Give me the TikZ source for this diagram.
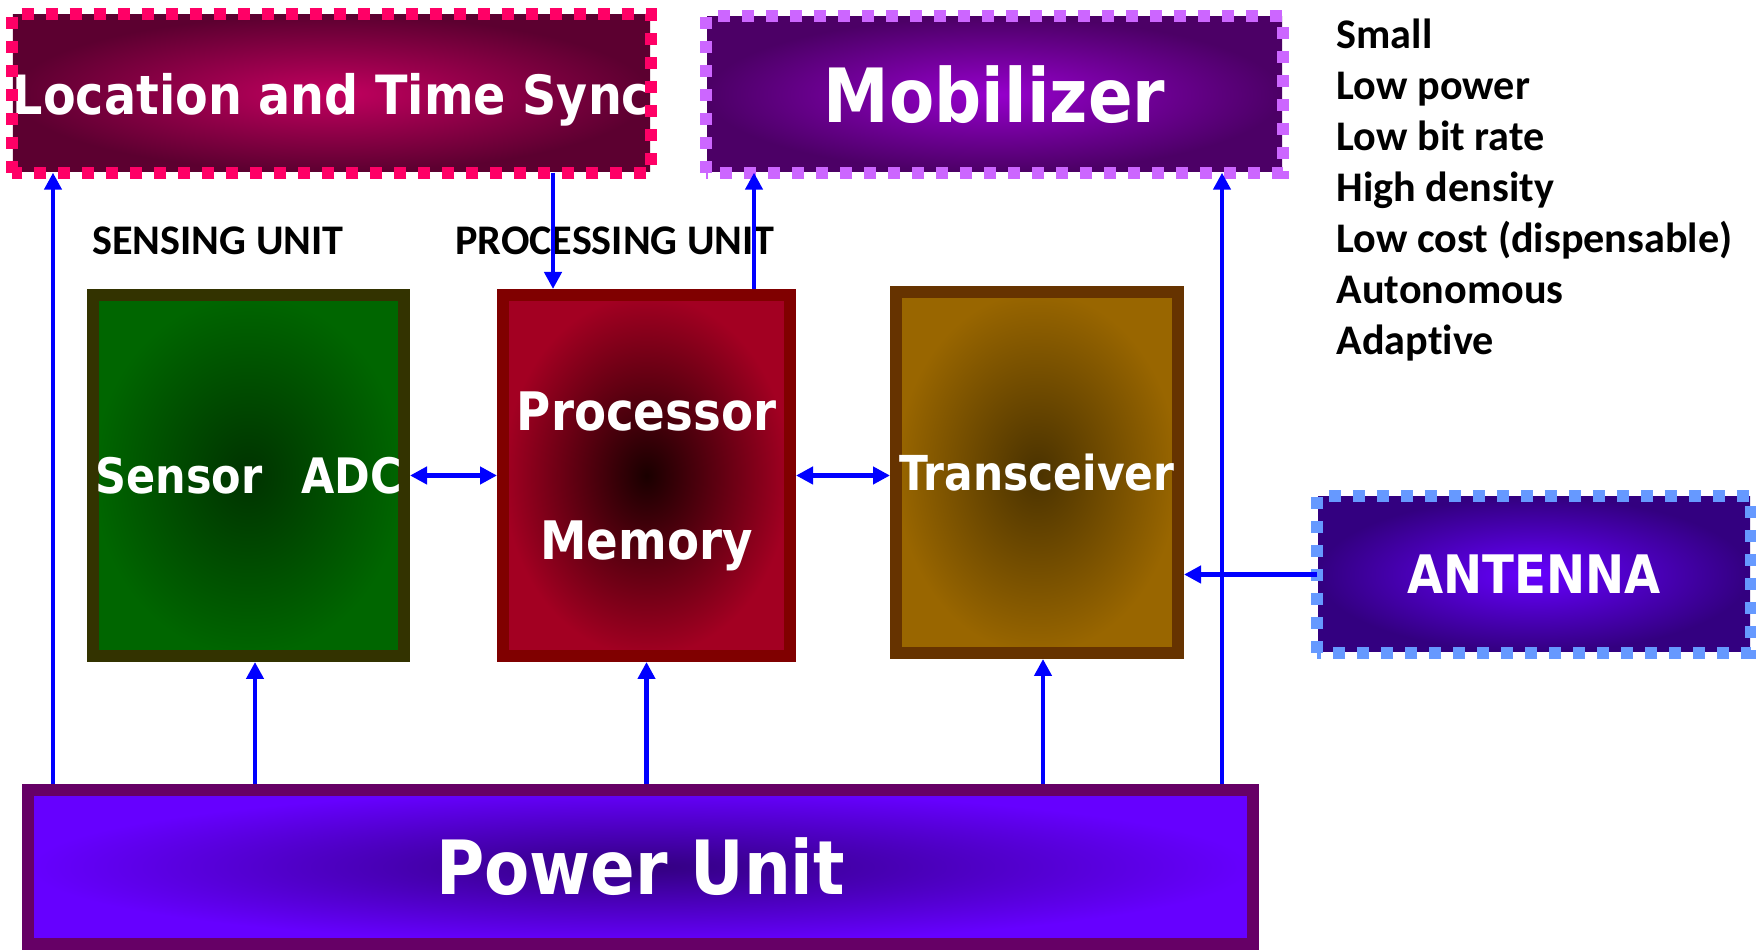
\documentclass[tikz,border=0pt]{standalone}
\usepackage{fontspec}
\usetikzlibrary{arrows.meta}
\newfontfamily\boxfont{DejaVu Sans}[FakeStretch=0.88]
\newfontfamily\listfont{Carlito}[Ligatures=NoCommon]

\definecolor{locin}{HTML}{C2005F}
\definecolor{locout}{HTML}{5C0030}
\definecolor{locdash}{HTML}{FF0066}
\definecolor{mobin}{HTML}{9600CC}
\definecolor{mobout}{HTML}{4C0066}
\definecolor{mobdash}{HTML}{CC66FF}
\definecolor{antin}{HTML}{6600FF}
\definecolor{antout}{HTML}{330080}
\definecolor{antdash}{HTML}{6699FF}
\definecolor{senin}{HTML}{003300}
\definecolor{senout}{HTML}{006600}
\definecolor{senline}{HTML}{333300}
\definecolor{procin}{HTML}{1A0000}
\definecolor{procout}{HTML}{A30022}
\definecolor{procline}{HTML}{800000}
\definecolor{trin}{HTML}{4A3200}
\definecolor{trout}{HTML}{996600}
\definecolor{trline}{HTML}{663300}
\definecolor{powin}{HTML}{330080}
\definecolor{powout}{HTML}{6600FF}
\definecolor{powline}{HTML}{660066}

\begin{document}
\begin{tikzpicture}[
    unit/.style={draw, line width=0.12cm, inner sep=0pt, text=white},
    cloud/.style={inner sep=0pt, text=white},
    dashline/.style={line width=0.12cm, dash pattern=on 0.12cm off 0.12cm},
    link/.style={draw=blue, line width=0.045cm, -{Triangle[length=0.17cm,width=0.17cm]}},
    twoway/.style={link, {Triangle[length=0.17cm,width=0.17cm]}-{Triangle[length=0.17cm,width=0.17cm]}}]
    \useasboundingbox (0,0) rectangle (17.56,9.5);

    % top boxes
    \node[cloud, inner color=locin, outer color=locout, minimum width=6.29cm, minimum height=1.57cm, text depth=0pt,
      font=\boxfont\bfseries\fontsize{15.4}{18}\selectfont] (loc) at (3.315,8.565) {Location and Time Sync};
    \draw[dashline, draw=locdash] (loc.south west) rectangle (loc.north east);
    \node[cloud, inner color=mobin, outer color=mobout, minimum width=5.75cm, minimum height=1.55cm,
      font=\boxfont\bfseries\fontsize{21.3}{25}\selectfont] (mob) at (9.945,8.555) {Mobilizer};
    \draw[dashline, draw=mobdash] (mob.south west) rectangle (mob.north east);

    % labels
    \node[font=\listfont\bfseries\fontsize{12}{14}\selectfont] (senslbl) at (2.18,7.09) {SENSING UNIT};
    \node[font=\listfont\bfseries\fontsize{12}{14}\selectfont] (proclbl) at (6.15,7.09) {PROCESSING UNIT};
    \node[anchor=north west, inner sep=0pt, align=left, font=\listfont\bfseries\fontsize{12}{14.5}\selectfont]
      (props) at (13.36,9.32) {Small\\Low power\\Low bit rate\\High density\\Low cost (dispensable)\\Autonomous\\Adaptive};

    % middle units
    \node[unit, draw=senline, inner color=senin, outer color=senout, minimum width=3.11cm, minimum height=3.61cm,
      font=\boxfont\bfseries\fontsize{13.9}{16}\selectfont] (sensor) at (2.485,4.745) {Sensor\hspace{11pt}ADC};
    \node[unit, draw=procline, inner color=procin, outer color=procout, minimum width=2.87cm, minimum height=3.61cm,
      align=center, text depth=0pt, font=\boxfont\bfseries\fontsize{15.1}{36.7}\selectfont] (proc) at (6.465,4.745) {Processor\\Memory};
    \node[unit, draw=trline, inner color=trin, outer color=trout, minimum width=2.82cm, minimum height=3.61cm,
      font=\boxfont\bfseries\fontsize{13.7}{16}\selectfont] (trans) at (10.37,4.775) {Transceiver};
    \node[cloud, inner color=antin, outer color=antout, minimum width=4.32cm, minimum height=1.55cm,
      font=\boxfont\bfseries\fontsize{15.1}{18}\selectfont] (ant) at (15.34,3.755) {ANTENNA};
    \draw[dashline, draw=antdash] (ant.south west) rectangle (ant.north east);

    % power
    \node[unit, draw=powline, inner color=powin, outer color=powout, minimum width=12.25cm, minimum height=1.54cm,
      font=\boxfont\bfseries\fontsize{21.3}{25}\selectfont] (power) at (6.405,0.83) {Power Unit};

    % arrows
    \coordinate (c1) at (0.53,0);
    \coordinate (c2) at (5.53,0);
    \coordinate (c3) at (7.54,0);
    \coordinate (c4) at (12.22,0);
    \coordinate (c5) at (2.55,0);
    \coordinate (c6) at (10.43,0);
    \draw[link] (power.north -| c1) -- (loc.south -| c1);
    \draw[link] (power.north -| c5) -- (sensor.south -| c5);
    \draw[link] (power.north -| proc.south) -- (proc.south);
    \draw[link] (power.north -| c6) -- (trans.south -| c6);
    \draw[link] (power.north -| c4) -- (mob.south -| c4);
    \draw[link] (loc.south -| c2) -- (proc.north -| c2);
    \draw[link] (proc.north -| c3) -- (mob.south -| c3);
    \draw[twoway] (sensor.east) -- (proc.west);
    \draw[twoway] (proc.east) -- (proc.east -| trans.west);
    \draw[link] (ant.west) -- (ant.west -| trans.east);
\end{tikzpicture}
\end{document}
